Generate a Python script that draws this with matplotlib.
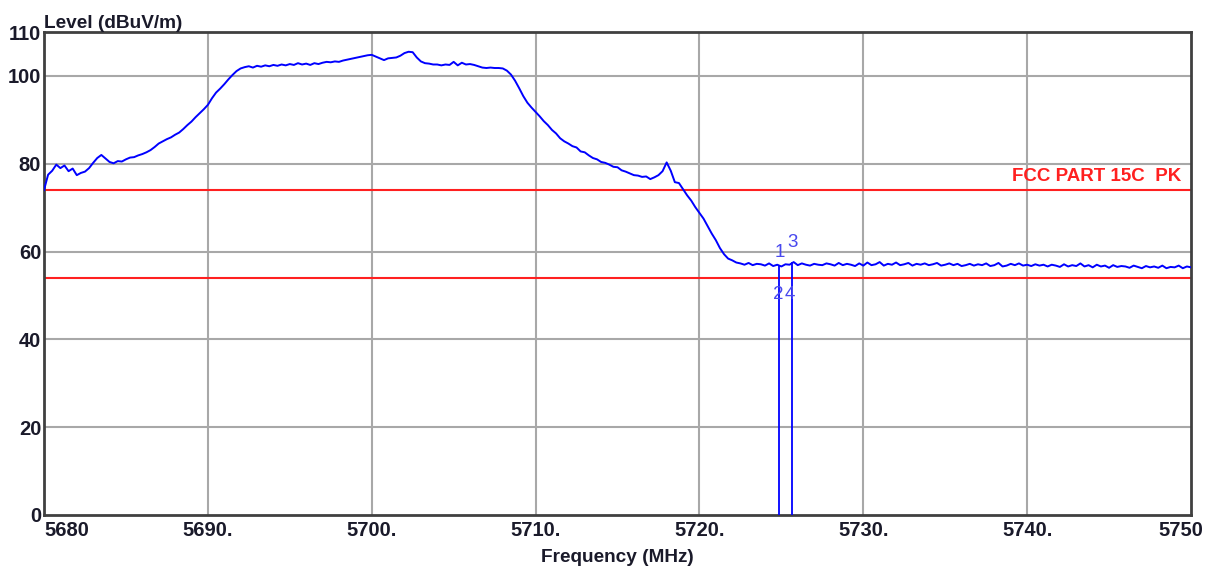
import numpy as np
import matplotlib
matplotlib.use("Agg")
import matplotlib.pyplot as plt
import matplotlib.transforms as mtransforms

plt.rcParams['font.family'] = ['Liberation Sans', 'DejaVu Sans']

# sweep: 5680 .. 5750 MHz, 0.25 MHz step (one row = 1 MHz)
f_start, f_stop = 5680.0, 5750.0
level = [
    74.0, 77.5, 78.4, 79.8,      # 5680
    79.0, 79.6, 78.3, 78.9,      # 5681
    77.4, 77.9, 78.2, 79.0,      # 5682
    80.2, 81.3, 82.0, 81.2,      # 5683
    80.4, 80.1, 80.6, 80.5,      # 5684
    81.0, 81.4, 81.5, 81.9,      # 5685
    82.2, 82.6, 83.1, 83.8,      # 5686
    84.6, 85.1, 85.6, 86.0,      # 5687
    86.6, 87.1, 87.9, 88.8,      # 5688
    89.6, 90.6, 91.5, 92.4,      # 5689
    93.4, 94.9, 96.2, 97.1,      # 5690
    98.1, 99.2, 100.2, 101.1,    # 5691
    101.7, 102.0, 102.2, 101.9,  # 5692
    102.3, 102.1, 102.4, 102.2,  # 5693
    102.5, 102.3, 102.6, 102.4,  # 5694
    102.7, 102.5, 102.9, 102.6,  # 5695
    102.8, 102.5, 102.9, 102.7,  # 5696
    103.0, 103.2, 103.1, 103.3,  # 5697
    103.2, 103.5, 103.7, 103.9,  # 5698
    104.1, 104.3, 104.5, 104.7,  # 5699
    104.8, 104.4, 104.0, 103.6,  # 5700
    104.0, 104.1, 104.2, 104.6,  # 5701
    105.2, 105.5, 105.4, 104.2,  # 5702
    103.3, 102.9, 102.8, 102.6,  # 5703
    102.6, 102.4, 102.6, 102.5,  # 5704
    103.2, 102.4, 103.0, 102.6,  # 5705
    102.7, 102.5, 102.2, 101.9,  # 5706
    101.8, 101.9, 101.8, 101.8,  # 5707
    101.7, 101.2, 100.3, 98.9,   # 5708
    97.2, 95.4, 93.9, 92.8,      # 5709
    91.8, 90.8, 89.7, 88.8,      # 5710
    87.7, 86.9, 85.8, 85.1,      # 5711
    84.6, 84.0, 83.7, 82.8,      # 5712
    82.6, 81.9, 81.3, 81.0,      # 5713
    80.4, 80.2, 79.8, 79.3,      # 5714
    79.2, 78.5, 78.2, 77.8,      # 5715
    77.4, 77.3, 77.0, 77.1,      # 5716
    76.5, 76.9, 77.4, 78.3,      # 5717
    80.3, 78.4, 75.8, 75.6,      # 5718
    74.2, 72.8, 71.6, 70.1,      # 5719
    68.8, 67.5, 65.8, 64.1,      # 5720
    62.6, 60.8, 59.4, 58.4,      # 5721
    58.0, 57.5, 57.3, 57.0,      # 5722
    57.4, 56.9, 57.2, 57.1,      # 5723
    56.8, 57.3, 56.7, 57.0,      # 5724
    56.6, 57.1, 57.0, 57.6,      # 5725
    56.9, 57.3, 57.0, 56.8,      # 5726
    57.2, 57.0, 56.9, 57.3,      # 5727
    57.1, 56.8, 57.4, 56.9,      # 5728
    57.2, 57.0, 56.7, 57.3,      # 5729
    56.8, 57.5, 56.9, 57.1,      # 5730
    57.6, 56.8, 57.2, 57.0,      # 5731
    57.5, 56.9, 57.1, 57.4,      # 5732
    56.8, 57.2, 57.0, 57.3,      # 5733
    56.9, 57.1, 57.4, 56.8,      # 5734
    57.0, 57.3, 56.9, 57.2,      # 5735
    56.7, 56.9, 57.2, 56.8,      # 5736
    57.1, 56.9, 57.3, 56.7,      # 5737
    56.9, 57.4, 56.6, 56.8,      # 5738
    57.2, 56.9, 57.3, 56.8,      # 5739
    57.0, 56.7, 57.1, 56.8,      # 5740
    57.0, 56.6, 57.0, 56.8,      # 5741
    56.5, 57.1, 56.6, 56.9,      # 5742
    56.7, 57.3, 56.6, 56.9,      # 5743
    56.4, 57.0, 56.6, 56.8,      # 5744
    56.3, 56.9, 56.5, 56.7,      # 5745
    56.6, 56.3, 56.8, 56.5,      # 5746
    56.2, 56.7, 56.4, 56.6,      # 5747
    56.3, 56.8, 56.2, 56.5,      # 5748
    56.4, 56.8, 56.2, 56.6,      # 5749
    56.4,                        # 5750
]
freq = np.linspace(f_start, f_stop, len(level))

limit_pk = 74.0
limit_av = 54.0
limit_name = "FCC PART 15C  PK"

marker_freq = [5724.88, 5725.68]
marker_top = [56.6, 57.5]
marker_labels = ["1", "2", "3", "4"]
marker_label_x = [5724.88, 5724.78, 5725.68, 5725.52]
marker_label_y = [59.8, 50.2, 62.0, 50.2]

xticks = [5680, 5690, 5700, 5710, 5720, 5730, 5740, 5750]
xticklabels = ["5680", "5690.", "5700.", "5710.", "5720.", "5730.", "5740.", "5750"]
yticks = [0, 20, 40, 60, 80, 100, 110]

fig = plt.figure(figsize=(12.12, 5.66), dpi=100)
ax = fig.add_axes([44 / 1212, 1 - 515 / 566, (1191 - 44) / 1212, (515 - 32) / 566])

ax.set_xlim(f_start, f_stop)
ax.set_ylim(0, 110)

# grid
for x in xticks[1:-1]:
    ax.axvline(x, color="#a8a8a8", lw=1.5, zorder=1)
for y in [20, 40, 60, 80, 100]:
    ax.axhline(y, color="#a8a8a8", lw=1.5, zorder=1)

# limit lines
ax.axhline(limit_pk, color="#ff2020", lw=1.5, zorder=2)
ax.axhline(limit_av, color="#ff2020", lw=1.5, zorder=2)
ax.text(5749.4, limit_pk + 1.2, limit_name, color="#ff2020", fontsize=13.5,
        fontweight="bold", ha="right", va="bottom", zorder=4)

# trace
ax.plot(freq, level, color="#0000ff", lw=1.4, zorder=3)

# markers
for mf, mt in zip(marker_freq, marker_top):
    ax.plot([mf, mf], [0, mt], color="#0000ff", lw=1.3, zorder=3)
for lab, lx, ly in zip(marker_labels, marker_label_x, marker_label_y):
    ax.text(lx, ly, lab, color="#4848ee", fontsize=13.5, ha="center", va="center", zorder=4)

for s in ax.spines.values():
    s.set_color("#404040")
    s.set_linewidth(2)

ax.set_xticks(xticks)
ax.set_xticklabels(xticklabels, fontsize=14.5, fontweight="bold", color="#1a1a2a")
ax.set_yticks(yticks)
ax.set_yticklabels([str(v) for v in yticks], fontsize=14.5, fontweight="bold", color="#1a1a2a")
ax.tick_params(axis="both", length=0)
ax.tick_params(axis="x", pad=4)
ax.tick_params(axis="y", pad=2)

labs = ax.get_xticklabels()
labs[0].set_horizontalalignment("left")
labs[-1].set_horizontalalignment("right")
labs[-1].set_transform(labs[-1].get_transform() +
                       mtransforms.ScaledTranslation(12 / 100, 0, fig.dpi_scale_trans))

ax.set_xlabel("Frequency (MHz)", fontsize=13.7, fontweight="bold", color="#1a1a2a", labelpad=7)
ax.text(0.0, 1.0, "Level (dBuV/m)", transform=ax.transAxes, fontsize=13.7,
        fontweight="bold", color="#1a1a2a", ha="left", va="bottom")

fig.savefig("out.png", dpi=100, facecolor="white")
